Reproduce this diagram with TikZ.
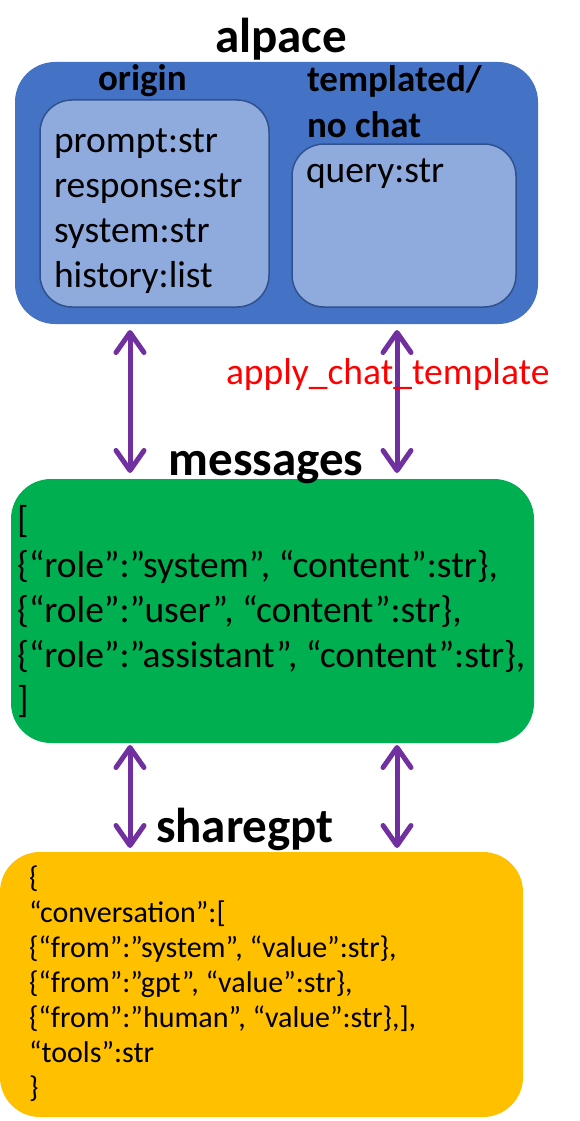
\documentclass[tikz,border=0pt]{standalone}
\usepackage{fontspec}
\setmainfont{Carlito}
\usetikzlibrary{positioning,arrows.meta}

\definecolor{alpblue}{HTML}{4472C4}
\definecolor{alplight}{HTML}{8FAADC}
\definecolor{alpedge}{HTML}{2F528F}
\definecolor{msggreen}{HTML}{00B050}
\definecolor{gptyellow}{HTML}{FFC000}
\definecolor{linkpurple}{HTML}{7030A0}

\begin{document}
\begin{tikzpicture}[
x=1pt, y=-1pt,
every node/.style={inner sep=0pt, outer sep=0pt},
title/.style={font=\fontsize{49}{59}\selectfont\bfseries, anchor=base},
body/.style={font=\fontsize{37.5}{44.7}\selectfont, align=left, anchor=base west},
small/.style={font=\fontsize{30}{35}\selectfont, align=left, anchor=base west},
bigbox/.style={rounded corners=40pt, anchor=north west},
innerbox/.style={draw=alpedge, line width=1.5pt, fill=alplight,
  rounded corners=32pt, anchor=north west},
link/.style={linkpurple, line width=5pt,
  {Straight Barb[length=20pt,width=28pt,round]}-{Straight Barb[length=20pt,width=28pt,round]},
  shorten <=6pt, shorten >=6pt}
]
\useasboundingbox (0,0) rectangle (580,1121);

% boxes
\node[bigbox, fill=alpblue,
minimum width=523pt,
minimum height=262pt] (alp) at (15,62) {};

\node[innerbox,
minimum width=229pt,
minimum height=207pt] (orig) at (40,100) {};

\node[innerbox,
minimum width=224pt,
minimum height=163pt] (tmpl) at (292,144) {};

\node[bigbox, fill=msggreen,
minimum width=523pt,
minimum height=264pt] (msg) at (11,479) {};

\node[bigbox, fill=gptyellow,
minimum width=523pt,
minimum height=265pt] (gpt) at (0,852) {};

% titles (multi-line texts sit on their last baseline)
\node[title] (alpT) at (281,53) {alpace};
\node[title] (msgT) at (266,475) {messages};
\node[title] (gptT) at (245,842) {sharegpt};

\node[body, font=\fontsize{37}{45}\selectfont\bfseries] (origT) at (98,91) {origin};
\node[body, font=\fontsize{37}{45}\selectfont\bfseries] (tmplT) at (307,137) {templated/\\no chat};

% contents
\node[body] (origL) at (54,287) {prompt:str\\response:str\\system:str\\history:list};
\node[body] (tmplL) at (306,182) {query:str};

\node[body, font=\fontsize{37.5}{45}\selectfont] (msgL) at (17,712)
{[\\\{“role”:”system”, “content”:str\},\\\{“role”:”user”, “content”:str\},\\\{“role”:”assistant”, “content”:str\},\\]};

\node[small] (gptL) at (29,1097)
{\{\\“conversation”:[\\\{“from”:”system”, “value”:str\},\\\{“from”:”gpt”, “value”:str\},\\\{“from”:”human”, “value”:str\},],\\“tools”:str\\\}};

% connectors
\coordinate (colL) at (130,0);
\coordinate (colR) at (397,0);

\draw[link] (colL |- alp.south) -- (colL |- msg.north);
\draw[link] (colR |- alp.south) -- (colR |- msg.north);
\draw[link, shorten <=2pt, shorten >=4pt] (colL |- msg.south) -- (colL |- gpt.north);
\draw[link, shorten <=2pt, shorten >=4pt] (colR |- msg.south) -- (colR |- gpt.north);

\node[body, text=red] (tmplA) at (226,384) {apply\_chat\_template};

\end{tikzpicture}
\end{document}
